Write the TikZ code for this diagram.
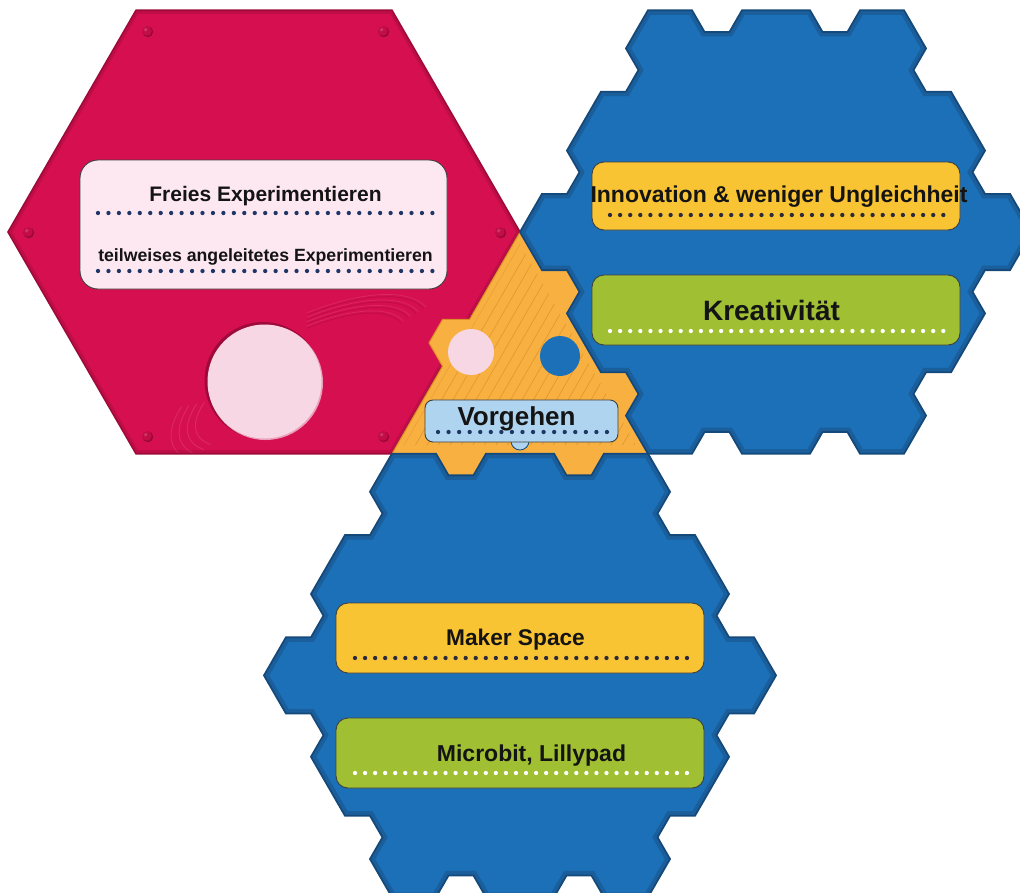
\documentclass[tikz,border=0pt]{standalone}
\usepackage{fontspec}
\setmainfont{Liberation Sans}
\usetikzlibrary{calc}

\definecolor{hexblue}{HTML}{1B70B7}
\definecolor{hexblueedge}{HTML}{15497A}
\definecolor{hexblueband}{HTML}{1A5E9C}
\definecolor{hexred}{HTML}{D60F50}
\definecolor{hexrededge}{HTML}{9E0A3A}
\definecolor{hexredband}{HTML}{BE0D47}
\definecolor{rivetfill}{HTML}{C20D46}
\definecolor{rivetrim}{HTML}{960836}
\definecolor{triorange}{HTML}{F8B040}
\definecolor{triedge}{HTML}{D98E26}
\definecolor{hatch}{HTML}{DD9430}
\definecolor{boxyellow}{HTML}{F9C433}
\definecolor{boxgreen}{HTML}{A0BF33}
\definecolor{boxpink}{HTML}{FDE7F0}
\definecolor{boxsky}{HTML}{AFD4EF}
\definecolor{discpink}{HTML}{F7D7E3}
\definecolor{discshade}{HTML}{EBA0BC}
\definecolor{dotnavy}{HTML}{1E3566}
\definecolor{dotdark}{HTML}{2A2A3A}
\definecolor{ink}{HTML}{141414}

\tikzset{
  card/.style={draw=black!75, line width=0.9pt, rounded corners=12pt, inner sep=0pt},
  txt/.style={text=ink, anchor=base, inner sep=0pt},
  dotrow/.style={line width=4.3pt, line cap=round},
}

% hexagon (pointy left/right, side 256) whose six edges carry two notches each
\newcommand\notchedhex[2]{%
  (#1-256,#2)
  \foreach \k [evaluate=\k as \ang using 300+60*\k] in {0,...,5}{
    -- ++(\ang:44) -- ++({\ang+60}:25) -- ++(\ang:25) -- ++({\ang-60}:25)
    -- ++(\ang:68) -- ++({\ang+60}:25) -- ++(\ang:25) -- ++({\ang-60}:25)
    -- ++(\ang:44)
  } -- cycle}

% one blue tile: fill, inner shaded band, outline
\newcommand\bluetile[2]{%
  \fill[hexblue] \notchedhex{#1}{#2};
  \begin{scope}
    \clip \notchedhex{#1}{#2};
    \draw[hexblueband, line width=9pt, line join=miter] \notchedhex{#1}{#2};
  \end{scope}
  \draw[hexblueedge, line width=1.8pt, line join=miter] \notchedhex{#1}{#2};}

\begin{document}
\begin{tikzpicture}[x=1pt,y=-1pt]
\useasboundingbox (0,0) rectangle (1020,892);
\clip (0,0) rectangle (1020,892);

% ---------- red hexagon ----------
\def\redhex{(8,232) -- ++(300:256) -- ++(0:256) -- ++(60:256) -- ++(120:256) -- ++(180:256) -- cycle}
\fill[hexred] \redhex;
\begin{scope}
  \clip \redhex;
  \draw[hexredband, line width=7pt, line join=miter] \redhex;
  % comet trail: arcs of a tilted orbit round the disc
  \foreach \ra/\rb/\rc/\rd in {116/44/119/46, 125/48/128/50, 134/52/137/54, 143/56/146/58}{
    \draw[hexredband, line width=1pt, opacity=.8]
      plot[domain=-75:-5, samples=30, smooth]
      ({300 + 0.8829*\ra*cos(\x) + 0.4695*\rb*sin(\x)}, {380 - 0.4695*\ra*cos(\x) + 0.8829*\rb*sin(\x)});
    \draw[white, line width=0.7pt, opacity=.10]
      plot[domain=-75:-5, samples=30, smooth]
      ({300 + 0.8829*\rc*cos(\x) + 0.4695*\rd*sin(\x)}, {380 - 0.4695*\rc*cos(\x) + 0.8829*\rd*sin(\x)});
    \draw[white, line width=1pt, opacity=.10]
      plot[domain=160:215, samples=30, smooth]
      ({300 + 0.8829*\ra*cos(\x) + 0.4695*\rb*sin(\x)}, {380 - 0.4695*\ra*cos(\x) + 0.8829*\rb*sin(\x)});
  }
\end{scope}
\draw[hexrededge, line width=1.6pt, line join=miter] \redhex;
\foreach \rx/\ry in {147/31, 383/31, 28/232, 500/232, 147/436, 383/436}{
  \fill[rivetrim] (\rx+0.8,\ry+0.8) circle[radius=5.4pt];
  \fill[rivetfill] (\rx,\ry) circle[radius=4.8pt];
  \fill[white, opacity=.18] (\rx-1.3,\ry-1.3) circle[radius=1.8pt];
}

% disc with rim and shade
\fill[hexrededge] (263,380.5) circle[radius=58.5pt];
\fill[discshade] (265.5,382.5) circle[radius=57.5pt];
\fill[discpink] (264.5,381.5) circle[radius=57pt];

% text card on the red hexagon
\node[card, rounded corners=18pt, fill=boxpink, minimum width=367pt, minimum height=129pt] (expbox) at (263.5,224.5) {};
\node[txt, font=\fontsize{21}{25}\selectfont\bfseries] (freies) at (265.5,201.7) {Freies Experimentieren};
\draw[dotrow, dotnavy, dash pattern=on 0pt off 10.45pt] (98,213) -- (433,213);
\node[txt, font=\fontsize{17.7}{21}\selectfont\bfseries] (teilw) at (265.5,261.5) {teilweises angeleitetes Experimentieren};
\draw[dotrow, dotnavy, dash pattern=on 0pt off 10.45pt] (98,271) -- (433,271);

% ---------- orange triangle with tabs ----------
\def\tripath{(520,232)
  -- ++(60:44) -- ++(0:25) -- ++(60:25) -- ++(120:25) -- ++(60:68) -- ++(0:25) -- ++(60:25) -- ++(120:25) -- ++(60:44)
  -- ++(180:44) -- ++(120:25) -- ++(180:25) -- ++(240:25) -- ++(180:68) -- ++(120:25) -- ++(180:25) -- ++(240:25) -- ++(180:44)
  -- ++(300:101) -- ++(240:27) -- ++(300:27) -- ++(0:27) -- ++(300:101) -- cycle}
\fill[triorange] \tripath;
\begin{scope}
  \clip (520,244) -- (636,445) -- (404,445) -- cycle;
  \foreach \i in {0,...,40}
    \draw[hatch, line width=0.55pt] ({240+\i*11.5},470) -- ++(300:300);
\end{scope}
\draw[triedge, line width=1pt, line join=miter] \tripath;

% ---------- blue hexagons ----------
\bluetile{776}{232}
\bluetile{520}{675.4}

% ---------- triangle contents ----------
\fill[discpink] (471,352) circle[radius=23pt];
\fill[hexblue] (560,356) circle[radius=20pt];
\draw[hexblueedge, fill=boxsky, line width=0.8pt] (520,441) circle[radius=9pt];
\node[card, rounded corners=8pt, fill=boxsky, minimum width=193pt, minimum height=42pt] (stepsbox) at (521.5,421) {};
\node[txt, font=\fontsize{26}{30}\selectfont\bfseries] (vorgehen) at (516.5,425) {Vorgehen};
\draw[dotrow, dotnavy, dash pattern=on 0pt off 10.56pt] (438,432) -- (608,432);

% ---------- cards on the upper right hexagon ----------
\node[card, fill=boxyellow, minimum width=368pt, minimum height=68pt] (innobox) at (776,196) {};
\node[txt, font=\fontsize{23}{27}\selectfont\bfseries] (inno) at (779,202.7) {Innovation \& weniger Ungleichheit};
\draw[dotrow, dotdark, dash pattern=on 0pt off 10.1pt] (610,215) -- (944,215);

\node[card, fill=boxgreen, minimum width=368pt, minimum height=70pt] (kreabox) at (776,310) {};
\node[txt, font=\fontsize{28}{32}\selectfont\bfseries] (krea) at (771.5,320) {Kreativität};
\draw[dotrow, white, dash pattern=on 0pt off 10.1pt] (610,331) -- (944,331);

% ---------- cards on the lower hexagon ----------
\node[card, fill=boxyellow, minimum width=368pt, minimum height=70pt] (makerbox) at (520,638) {};
\node[txt, font=\fontsize{22.7}{27}\selectfont\bfseries] (maker) at (515.5,645) {Maker Space};
\draw[dotrow, dotdark, dash pattern=on 0pt off 10.06pt] (355,658) -- (688,658);

\node[card, fill=boxgreen, minimum width=368pt, minimum height=70pt] (microbox) at (520,753) {};
\node[txt, font=\fontsize{23}{27}\selectfont\bfseries] (micro) at (531.5,761) {Microbit, Lillypad};
\draw[dotrow, white, dash pattern=on 0pt off 10.06pt] (355,773) -- (688,773);
\end{tikzpicture}
\end{document}
